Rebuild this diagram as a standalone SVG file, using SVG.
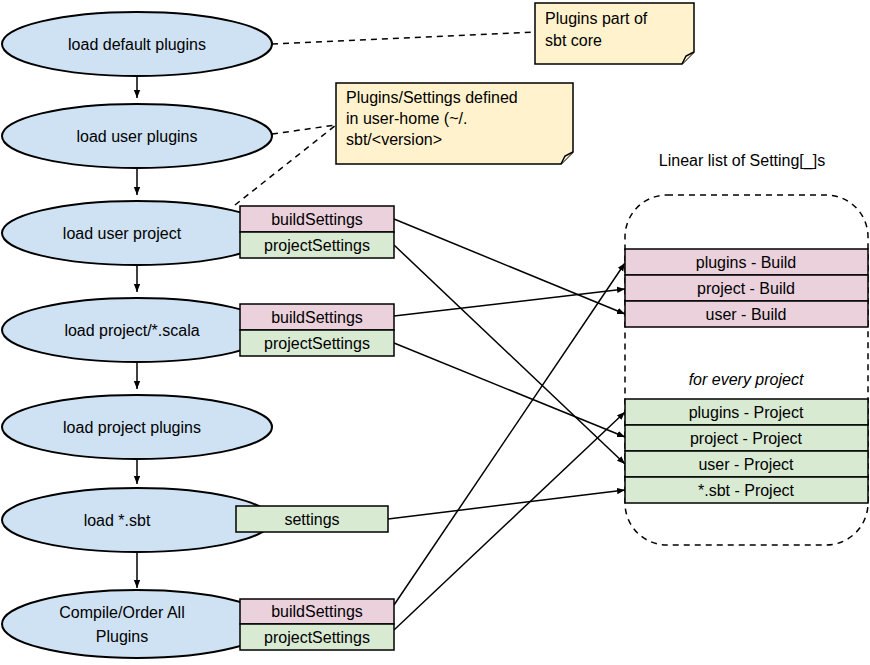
<svg xmlns="http://www.w3.org/2000/svg" width="870" height="665" viewBox="0 0 870 665">
<defs>
<marker id="ah" viewBox="0 0 10 10" refX="10" refY="5" markerWidth="8" markerHeight="8" markerUnits="userSpaceOnUse" orient="auto"><path d="M0,1 L10,5 L0,9 z" fill="#000"/></marker>
<style>
text{font-family:"Liberation Sans",Arial,sans-serif;font-size:16px;fill:#000}
.e{fill:#cfe2f3;stroke:#000;stroke-width:2}
.p{fill:#ead1dc;stroke:#000;stroke-width:1.5}
.g{fill:#d9ead3;stroke:#000;stroke-width:1.5}
.n{fill:#fff2cc;stroke:#000;stroke-width:1.5}
.c{stroke:#000;stroke-width:1.5;fill:none}
.d{stroke:#000;stroke-width:1.5;fill:none;stroke-dasharray:6,5}
.m{text-anchor:middle}
</style>
</defs>
<g id="connectors">
<path class="d" d="M272,44 L535,32"/>
<path class="d" d="M272,134 L336,125"/>
<path class="d" d="M235,205 L336,125"/>
<path class="c" marker-end="url(#ah)" d="M137,76 L137,98"/>
<path class="c" marker-end="url(#ah)" d="M137,168 L137,195"/>
<path class="c" marker-end="url(#ah)" d="M137,265 L137,292"/>
<path class="c" marker-end="url(#ah)" d="M137,362 L137,389"/>
<path class="c" marker-end="url(#ah)" d="M137,459 L137,484"/>
<path class="c" marker-end="url(#ah)" d="M137,552 L137,588"/>
<path class="c" marker-end="url(#ah)" d="M394,219 L625,314"/>
<path class="c" marker-end="url(#ah)" d="M394,245 L625,464"/>
<path class="c" marker-end="url(#ah)" d="M394,316 L625,289"/>
<path class="c" marker-end="url(#ah)" d="M394,343 L625,437"/>
<path class="c" marker-end="url(#ah)" d="M388,519 L625,490"/>
<path class="c" marker-end="url(#ah)" d="M394,605 L625,263"/>
<path class="c" marker-end="url(#ah)" d="M394,630 L625,412"/>
</g>
<g id="note1"><path class="n" d="M535,3 H694 V52 L682,64 H535 Z"/><path class="n" d="M682,64 L686,56 L694,52"/><text x="545" y="24">Plugins part of</text><text x="545" y="46">sbt core</text></g>
<g id="note2"><path class="n" d="M336,83 H573 V152 L561,164 H336 Z"/><path class="n" d="M561,164 L565,156 L573,152"/><text x="346" y="103">Plugins/Settings defined</text><text x="346" y="124">in user-home (~/.</text><text x="346" y="145">sbt/&lt;version&gt;</text></g>
<g id="n1"><ellipse class="e" cx="137" cy="44" rx="135" ry="32"/><text class="m" x="137" y="50">load  default plugins</text></g>
<g id="n2"><ellipse class="e" cx="137" cy="136" rx="135" ry="32"/><text class="m" x="137" y="142">load  user plugins</text></g>
<g id="n3"><ellipse class="e" cx="137" cy="233" rx="135" ry="32"/><text class="m" x="122" y="239">load  user project</text></g>
<g id="n4"><ellipse class="e" cx="137" cy="330" rx="135" ry="32"/><text class="m" x="132" y="336">load  project/*.scala</text></g>
<g id="n5"><ellipse class="e" cx="137" cy="427" rx="135" ry="32"/><text class="m" x="132" y="433">load  project plugins</text></g>
<g id="n6"><ellipse class="e" cx="137" cy="520" rx="135" ry="32"/><text class="m" x="117" y="526">load *.sbt</text></g>
<g id="n7"><ellipse class="e" cx="137" cy="624" rx="135" ry="34"/><text class="m" x="122" y="618">Compile/Order All</text><text class="m" x="122" y="642">Plugins</text></g>
<g id="b3"><rect class="p" x="240" y="206" width="154" height="26"/><text class="m" x="317" y="225">buildSettings</text><rect class="g" x="240" y="232" width="154" height="26"/><text class="m" x="317" y="251">projectSettings</text></g>
<g id="b4"><rect class="p" x="240" y="304" width="154" height="26"/><text class="m" x="317" y="323">buildSettings</text><rect class="g" x="240" y="330" width="154" height="26"/><text class="m" x="317" y="349">projectSettings</text></g>
<g id="b6"><rect class="g" x="236" y="506" width="152" height="26"/><text class="m" x="312" y="525">settings</text></g>
<g id="b7"><rect class="p" x="240" y="599" width="154" height="25"/><text class="m" x="317" y="617">buildSettings</text><rect class="g" x="240" y="624" width="154" height="26"/><text class="m" x="317" y="643">projectSettings</text></g>
<g id="list">
<text class="m" x="742" y="166">Linear list of Setting[_]s</text>
<rect class="d" x="625" y="195" width="243" height="350" rx="42"/>
<rect class="p" x="625" y="249" width="243" height="26"/><text class="m" x="746" y="268">plugins  - Build</text>
<rect class="p" x="625" y="275" width="243" height="26"/><text class="m" x="746" y="294">project  - Build</text>
<rect class="p" x="625" y="301" width="243" height="26"/><text class="m" x="746" y="320">user - Build</text>
<text class="m" x="746" y="385" font-style="italic">for every project</text>
<rect class="g" x="625" y="399" width="243" height="26"/><text class="m" x="746" y="418">plugins  - Project</text>
<rect class="g" x="625" y="425" width="243" height="26"/><text class="m" x="746" y="444">project  - Project</text>
<rect class="g" x="625" y="451" width="243" height="26"/><text class="m" x="746" y="470">user - Project</text>
<rect class="g" x="625" y="477" width="243" height="26"/><text class="m" x="746" y="496">*.sbt  - Project</text>
</g>
</svg>
